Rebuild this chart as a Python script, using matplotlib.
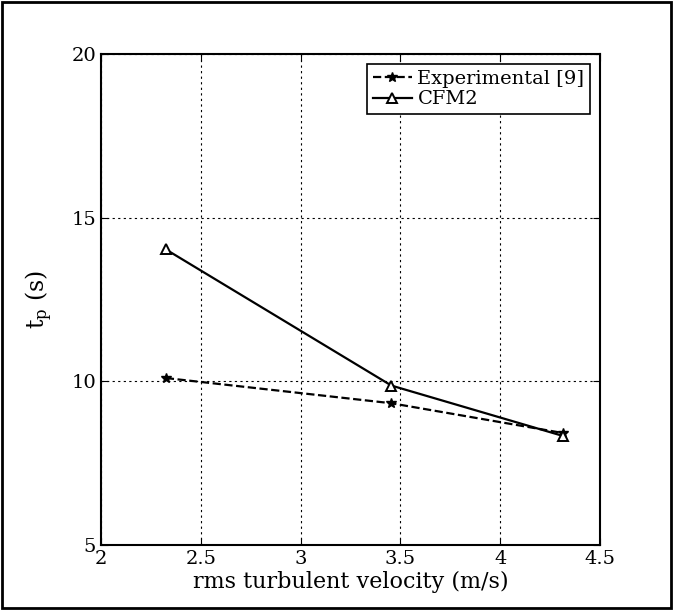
import matplotlib
matplotlib.use("Agg")
import matplotlib.pyplot as plt
from matplotlib.patches import Rectangle

# data
vel = [2.325, 3.455, 4.315]
exp_tp = [10.1, 9.33, 8.42]
cfm_tp = [14.03, 9.87, 8.33]

xticks = [2, 2.5, 3, 3.5, 4, 4.5]
yticks = [5, 10, 15, 20]

plt.rcParams['font.family'] = ['DejaVu Serif']

fig = plt.figure(figsize=(6.73, 6.10), dpi=100)
ax = fig.add_axes([0.150, 0.1066, 0.7415, 0.8049])

ax.plot(vel, exp_tp, color='black', linestyle='--', linewidth=1.6,
        marker='*', markersize=7, label='Experimental [9]')
ax.plot(vel, cfm_tp, color='black', linestyle='-', linewidth=1.6,
        marker='^', markersize=7, markerfacecolor='white',
        markeredgewidth=1.4, label='CFM2')

ax.set_xlim(2, 4.5)
ax.set_ylim(5, 20)
ax.set_xticks(xticks)
ax.set_yticks(yticks)
ax.set_xticklabels([str(t) for t in xticks])
ax.grid(True, color='black', linestyle=(0, (2, 3)), linewidth=0.8)
ax.tick_params(direction='in', labelsize=14, length=5, top=True, right=True)
for s in ax.spines.values():
    s.set_linewidth(1.5)

ax.set_xlabel('rms turbulent velocity (m/s)', fontsize=16, labelpad=2)
ax.set_ylabel(r'$\mathregular{t_p}$ (s)', fontsize=17, labelpad=12)

leg = ax.legend(loc='upper right', fontsize=14, fancybox=False,
                framealpha=1, edgecolor='black', handlelength=2.0,
                borderaxespad=0.5, handletextpad=0.3, labelspacing=0.15,
                borderpad=0.3)
leg.get_frame().set_linewidth(1.2)

fig.patches.append(Rectangle((0.003, 0.003), 0.994, 0.994, transform=fig.transFigure,
                             fill=False, edgecolor='black', linewidth=2))

fig.savefig('out.png', dpi=100)
